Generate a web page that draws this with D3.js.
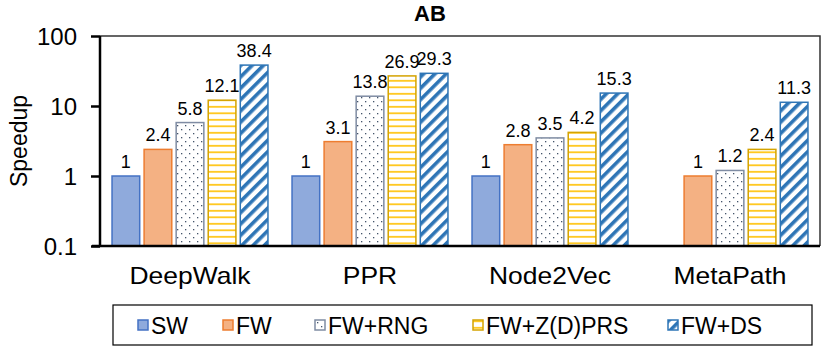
<!DOCTYPE html>
<html lang="en">
<head>
<meta charset="UTF-8">
<title>AB speedup</title>
<script src="https://cdn.jsdelivr.net/npm/d3@7"></script>
<style>
  body { margin: 0; background: #fff; }
  text { font-family: "Liberation Sans", Arial, sans-serif; fill: #000; }
</style>
</head>
<body>
<div id="chart"></div>
<script>
// data
var categories = ["DeepWalk", "PPR", "Node2Vec", "MetaPath"];
var seriesNames = ["SW", "FW", "FW+RNG", "FW+Z(D)PRS", "FW+DS"];
var sw      = [1, 1, 1, null];
var fw      = [2.4, 3.1, 2.8, 1];
var fwRng   = [5.8, 13.8, 3.5, 1.2];
var fwZdprs = [12.1, 26.9, 4.2, 2.4];
var fwDs    = [38.4, 29.3, 15.3, 11.3];
var yTicks  = [0.1, 1, 10, 100];
var yTickLabels = ["0.1", "1", "10", "100"];

var series = [sw, fw, fwRng, fwZdprs, fwDs];

var width = 830, height = 354,
    plotLeft = 100, plotRight = 820, plotTop = 36, plotBottom = 246;

var svg = d3.select('#chart').append('svg')
    .attr('width', width)
    .attr('height', height);

// patterns
var defs = svg.append('defs');

var dots = defs.append('pattern')
    .attr('id', 'dots').attr('patternUnits', 'userSpaceOnUse')
    .attr('width', 8).attr('height', 8);
dots.append('rect').attr('width', 8).attr('height', 8).attr('fill', '#fff');
dots.append('rect').attr('x', 1).attr('y', 1).attr('width', 1.3).attr('height', 1.3).attr('fill', '#44546a');
dots.append('rect').attr('x', 5).attr('y', 5).attr('width', 1.3).attr('height', 1.3).attr('fill', '#44546a');

var hlines = defs.append('pattern')
    .attr('id', 'hlines').attr('patternUnits', 'userSpaceOnUse')
    .attr('width', 6).attr('height', 6.5);
hlines.append('rect').attr('width', 6).attr('height', 6.5).attr('fill', '#fff');
hlines.append('rect').attr('y', 2).attr('width', 6).attr('height', 1.6).attr('fill', '#ffc000');

var diag = defs.append('pattern')
    .attr('id', 'diag').attr('patternUnits', 'userSpaceOnUse')
    .attr('width', 8).attr('height', 8)
    .attr('patternTransform', 'rotate(45)');
diag.append('rect').attr('width', 8).attr('height', 8).attr('fill', '#fff');
diag.append('rect').attr('x', 0).attr('width', 3.6).attr('height', 8).attr('fill', '#2e75b6');

var fills   = ['#8faadc', '#f4b183', 'url(#dots)', 'url(#hlines)', 'url(#diag)'];
var strokes = ['#4472c4', '#ed7d31', '#7f8ca3', '#d4a300', '#2e75b6'];

// scales
var x0 = d3.scaleBand().domain(categories).range([plotLeft, plotRight]);
var x1 = d3.scaleBand().domain(d3.range(seriesNames.length))
    .range([10, x0.bandwidth() - 10]).paddingInner(0.09).paddingOuter(0.04);
var y = d3.scaleLog().domain([0.1, 100]).range([plotBottom, plotTop]);

// text that looks a little wide in the reference
function wideText(sel, x, yy, sx) {
    return sel.append('text')
        .attr('transform', 'translate(' + x + ',' + yy + ') scale(' + sx + ',1)')
        .attr('text-anchor', 'middle');
}

// plot frame (top / right)
svg.append('path')
    .attr('d', 'M' + plotLeft + ',' + plotTop + 'H' + plotRight + 'V' + plotBottom)
    .attr('fill', 'none').attr('stroke', '#333').attr('stroke-width', 1.5);

// bars
var groups = svg.selectAll('g.cat')
    .data(categories)
    .enter().append('g')
    .attr('class', 'cat')
    .attr('transform', function (d) { return 'translate(' + x0(d) + ',0)'; });

groups.each(function (c, ci) {
    var g = d3.select(this);
    series.forEach(function (s, si) {
        var v = s[ci];
        if (v == null) return;
        g.append('rect')
            .attr('x', x1(si) + 0.75)
            .attr('y', y(v))
            .attr('width', x1.bandwidth() - 1.5)
            .attr('height', plotBottom - y(v))
            .attr('fill', fills[si])
            .attr('stroke', strokes[si])
            .attr('stroke-width', 1.5);
        wideText(g, x1(si) + x1.bandwidth() / 2, y(v) - 8, 1.0)
            .style('font-size', '18px')
            .text(v);
    });
});

// axes
var yAxis = svg.append('g')
    .attr('transform', 'translate(' + plotLeft + ',0)')
    .call(d3.axisLeft(y).tickValues(yTicks)
        .tickFormat(function (d, i) { return yTickLabels[i]; })
        .tickSize(9).tickPadding(14));
yAxis.select('.domain').attr('stroke-width', 2.5).attr('d', 'M0,' + plotTop + 'V' + plotBottom);
yAxis.selectAll('.tick line').attr('stroke-width', 2.5);
yAxis.selectAll('text').style('font-size', '24px').attr('font-family', null).attr('dy', '0.36em');

var xAxis = svg.append('g')
    .attr('transform', 'translate(0,' + plotBottom + ')')
    .call(d3.axisBottom(x0).tickSize(0).tickFormat(''));
xAxis.select('.domain').attr('stroke-width', 2.5).attr('d', 'M' + (plotLeft - 8) + ',0H' + plotRight);

categories.forEach(function (c) {
    wideText(svg, x0(c) + x0.bandwidth() / 2, 284, 1.15)
        .style('font-size', '23px')
        .text(c);
});

// title and y label
svg.append('text')
    .attr('x', 430).attr('y', 21)
    .attr('text-anchor', 'middle')
    .style('font-size', '22px').style('font-weight', 'bold')
    .text('AB');

svg.append('text')
    .attr('transform', 'translate(27,' + ((plotTop + plotBottom) / 2) + ') rotate(-90)')
    .attr('text-anchor', 'middle')
    .style('font-size', '23px')
    .text('Speedup');

// legend
var legendX = [143, 228, 320, 478, 673];
var legend = svg.append('g');
legend.append('rect')
    .attr('x', 113).attr('y', 305).attr('width', 699).attr('height', 40)
    .attr('fill', '#fff').attr('stroke', '#000').attr('stroke-width', 1.2);

var items = legend.selectAll('g.item')
    .data(seriesNames)
    .enter().append('g')
    .attr('transform', function (d, i) { return 'translate(' + legendX[i] + ',325)'; });
items.append('rect')
    .attr('x', -5).attr('y', -5).attr('width', 10).attr('height', 10)
    .attr('fill', function (d, i) { return fills[i]; })
    .attr('stroke', function (d, i) { return strokes[i]; })
    .attr('stroke-width', 1.5);
items.append('text')
    .attr('transform', 'translate(8,8.5)')
    .style('font-size', '23px')
    .text(function (d) { return d; });
</script>
</body>
</html>
